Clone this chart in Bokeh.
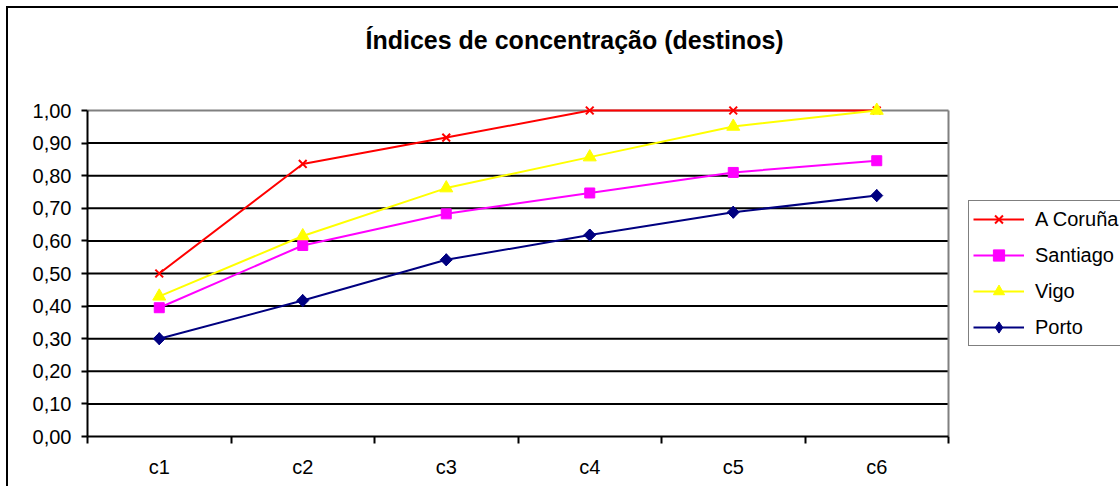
import math
from bokeh.plotting import figure
from bokeh.models import FixedTicker, Legend, LegendItem, Title, Range1d
from bokeh.embed import file_html
from bokeh.resources import INLINE

# ---- data ----
categories = ["c1", "c2", "c3", "c4", "c5", "c6"]
y_ticks = [0.0, 0.1, 0.2, 0.3, 0.4, 0.5, 0.6, 0.7, 0.8, 0.9, 1.0]
y_tick_labels = ["0,00", "0,10", "0,20", "0,30", "0,40", "0,50",
                 "0,60", "0,70", "0,80", "0,90", "1,00"]
a_coruna = [0.50, 0.836, 0.917, 1.00, 1.00, 1.00]
santiago = [0.395, 0.586, 0.683, 0.747, 0.810, 0.846]
vigo = [0.43, 0.615, 0.762, 0.857, 0.951, 1.00]
porto = [0.30, 0.417, 0.542, 0.618, 0.688, 0.739]

FONT = "Liberation Sans"
n_cat = len(categories)
xs = [i + 0.5 for i in range(n_cat)]
y_top = y_ticks[-1]

# frame extends to the right edge so that the legend (inside the frame) is not clipped
W = 1112
x_end = n_cat * (W - 79) / 861
p = figure(width=W, height=480, output_backend="svg", toolbar_location=None,
           x_range=Range1d(0, x_end), y_range=Range1d(0, 339 / 326),
           min_border_left=79, min_border_right=0, min_border_top=89, min_border_bottom=52)
p.styles = {"margin-left": "6px", "margin-top": "6px",
            "border-left": "2px solid #000", "border-top": "2px solid #000"}
p.outline_line_color = None
p.background_fill_color = "white"
p.border_fill_color = "white"

spacer = Title(text=" ", text_font_size="22px", standoff=12, text_font=FONT)
p.add_layout(spacer, "above")
t = Title(text="Índices de concentração (destinos)", align="left", offset=278, standoff=10,
          text_font_size="25px", text_font_style="bold", text_font=FONT, text_color="black")
p.add_layout(t, "above")

# x axis
p.xaxis.bounds = (0, n_cat)
p.xaxis.ticker = FixedTicker(ticks=xs, minor_ticks=list(range(n_cat + 1)))
p.xaxis.major_label_overrides = {x: c for x, c in zip(xs, categories)}
p.xaxis.major_tick_line_color = None
p.xaxis.minor_tick_line_color = "black"
p.xaxis.minor_tick_line_width = 2
p.xaxis.minor_tick_out = 7
p.xaxis.minor_tick_in = 0
p.xaxis.axis_line_color = "black"
p.xaxis.axis_line_width = 2
p.xaxis.major_label_text_font = FONT
p.xaxis.major_label_text_font_size = "20px"
p.xaxis.major_label_text_color = "black"
p.xaxis.major_label_standoff = 12

# y axis
p.yaxis.bounds = (0, y_top)
p.yaxis.ticker = FixedTicker(ticks=y_ticks, minor_ticks=[])
p.yaxis.major_label_overrides = {v: s for v, s in zip(y_ticks, y_tick_labels)}
p.yaxis.major_tick_line_color = "black"
p.yaxis.major_tick_line_width = 2
p.yaxis.major_tick_out = 6
p.yaxis.major_tick_in = 0
p.yaxis.axis_line_color = "black"
p.yaxis.axis_line_width = 2
p.yaxis.major_label_text_font = FONT
p.yaxis.major_label_text_font_size = "20px"
p.yaxis.major_label_text_color = "black"
p.yaxis.major_label_standoff = 10

p.xgrid.grid_line_color = None
p.ygrid.grid_line_color = None

# horizontal gridlines limited to the plot area
grid_y = y_ticks[1:-1]
p.segment(x0=[0] * len(grid_y), y0=grid_y, x1=[n_cat] * len(grid_y), y1=grid_y,
          line_color="black", line_width=2)
# plot-area border (top and right), gray
p.segment(x0=[0, n_cat], y0=[y_top, 0], x1=[n_cat, n_cat], y1=[y_top, y_top],
          line_color="#808080", line_width=2)

series = [
    ("A Coruña", a_coruna, "#FF0000", "x"),
    ("Santiago", santiago, "#FF00FF", "square"),
    ("Vigo", vigo, "#FFFF00", "triangle"),
    ("Porto", porto, "#000080", "diamond"),
]

items = []
for name, vals, color, marker in series:
    lr = p.line(xs, vals, line_color=color, line_width=2)
    if marker == "x":
        sr = p.scatter(xs, vals, marker="x", size=11, line_color=color, line_width=2)
        leg = [lr, sr]
    elif marker == "square":
        sr = p.scatter(xs, vals, marker="square", size=10, fill_color=color,
                       line_color=color, line_width=1)
        leg = [lr, sr]
    elif marker == "triangle":
        sr = p.scatter(xs, vals, marker="triangle", size=13, fill_color=color,
                       line_color=color, line_width=1)
        leg = [lr, sr]
    else:
        # diamond used for the legend symbol (hidden under the rotated squares)
        lg = p.scatter(xs, vals, marker="diamond", size=12, fill_color=color,
                       line_color=color, line_width=1)
        sr = p.scatter(xs, vals, marker="square", size=8.5, angle=math.pi / 4,
                       fill_color=color, line_color=color, line_width=1)
        leg = [lr, lg]
    items.append(LegendItem(label=name, renderers=leg))

legend = Legend(items=items, location=(881, 90), orientation="vertical",
                label_text_font=FONT, label_text_font_size="20px", label_text_color="black",
                glyph_width=51, glyph_height=28, label_height=20, label_standoff=11,
                spacing=8, padding=4, margin=0,
                border_line_color="black", border_line_width=1.5,
                background_fill_color="white", background_fill_alpha=1.0)
p.add_layout(legend, "center")

open("out.html", "w").write(file_html(p, INLINE))
